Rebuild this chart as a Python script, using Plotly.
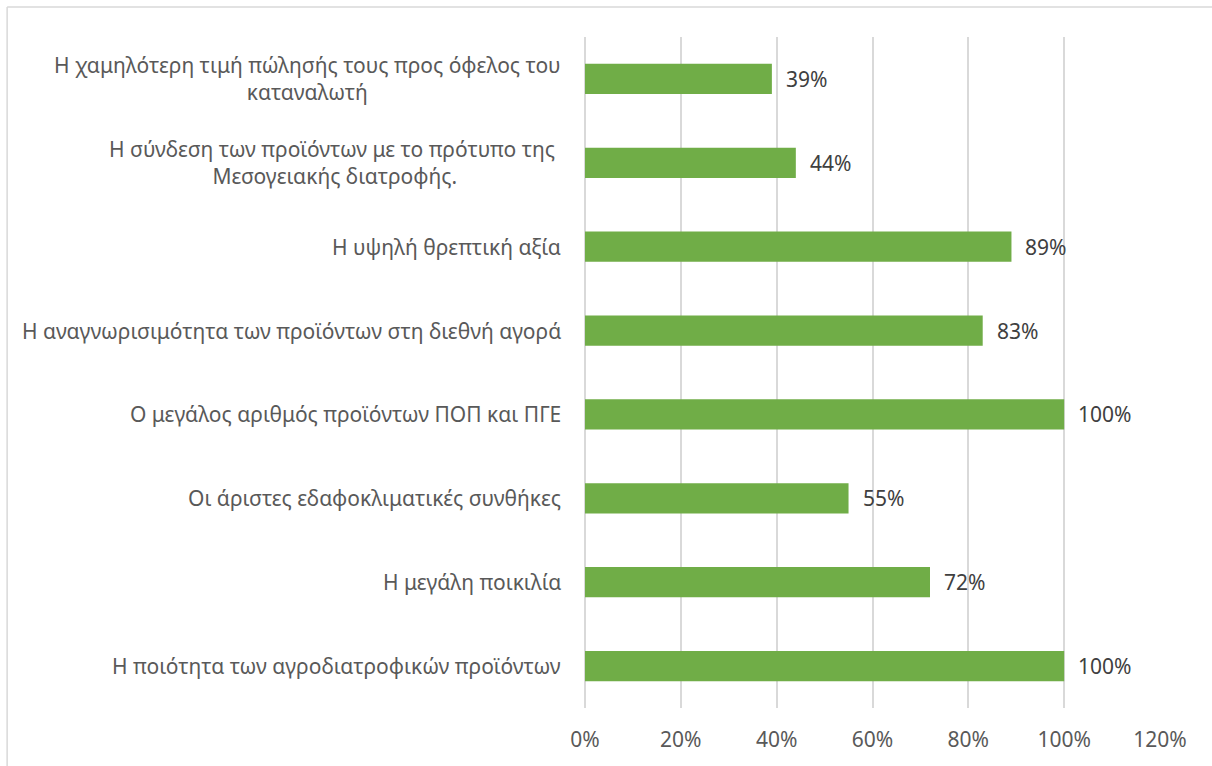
import plotly.graph_objects as go

categories = [
    "Η χαμηλότερη τιμή πώλησής τους προς όφελος του<br>καταναλωτή",
    "Η σύνδεση των προϊόντων με το πρότυπο της <br>Μεσογειακής διατροφής.",
    "Η υψηλή θρεπτική αξία",
    "Η αναγνωρισιμότητα των προϊόντων στη διεθνή αγορά",
    "Ο μεγάλος αριθμός προϊόντων ΠΟΠ και ΠΓΕ",
    "Οι άριστες εδαφοκλιματικές συνθήκες",
    "Η μεγάλη ποικιλία",
    "Η ποιότητα των αγροδιατροφικών προϊόντων",
]
values = [0.39, 0.44, 0.89, 0.83, 1.00, 0.55, 0.72, 1.00]
tick_vals = [0, 0.2, 0.4, 0.6, 0.8, 1.0, 1.2]
tick_text = ["0%", "20%", "40%", "60%", "80%", "100%", "120%"]

FONT = "'Noto Sans', sans-serif"
TXT = "#595959"
FS = 21

fig = go.Figure(go.Bar(
    y=categories, x=values, orientation="h",
    marker=dict(color="#70AD47", line=dict(width=0)),
    width=0.36, hoverinfo="skip",
))

for c in categories:
    fig.add_annotation(
        x=0, xref="paper", y=c, yref="y", xanchor="right", xshift=-22,
        text=c, showarrow=False, align="center",
        font=dict(family=FONT, size=FS, color=TXT),
    )

for c, v in zip(categories, values):
    fig.add_annotation(
        x=v, xref="x", y=c, yref="y", xanchor="left", xshift=12,
        text=f"{round(v*100)}%", showarrow=False,
        font=dict(family=FONT, size=FS, color="#404040"),
    )

# outer chart border (partially visible)
fig.add_shape(type="line", xref="paper", yref="paper",
              x0=-1.005, x1=1.2, y0=1.0447, y1=1.0447,
              line=dict(color="#D9D9D9", width=1.5))
fig.add_shape(type="line", xref="paper", yref="paper",
              x0=-1.005, x1=-1.005, y0=1.0447, y1=-0.2,
              line=dict(color="#D9D9D9", width=1.5))

fig.update_layout(
    width=1212, height=766,
    margin=dict(l=585, r=52, t=37, b=58),
    paper_bgcolor="white", plot_bgcolor="white",
    showlegend=False,
    font=dict(family=FONT, size=FS, color=TXT),
    xaxis=dict(range=[0, 1.2], tickvals=tick_vals, ticktext=tick_text,
               showgrid=True, gridcolor="#D9D9D9", gridwidth=1.5,
               zeroline=True, zerolinecolor="#D9D9D9", zerolinewidth=1.5,
               showline=False,
               tickfont=dict(family=FONT, size=FS, color=TXT),
               ticklabelstandoff=17),
    yaxis=dict(categoryorder="array", categoryarray=categories,
               autorange="reversed", showticklabels=False,
               showgrid=False, zeroline=False, showline=False),
)

fig.write_html("out.html",
               config={"displayModeBar": False},
               post_script="document.body.style.margin='0';document.body.style.overflow='hidden';")
